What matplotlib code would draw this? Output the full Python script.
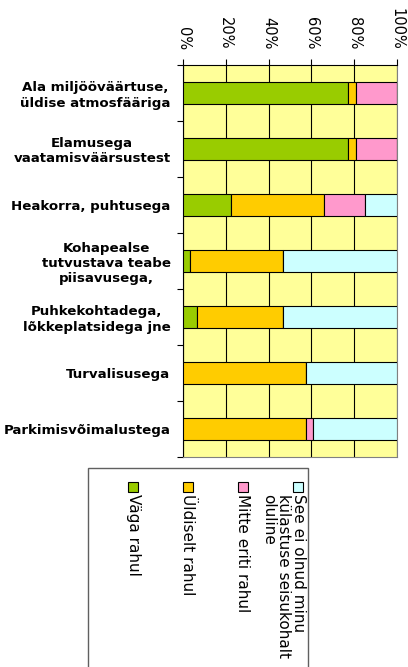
import numpy as np
import matplotlib
matplotlib.use("Agg")
import matplotlib.pyplot as plt
from matplotlib.patches import Rectangle

categories = [
    "Ala miljööväärtuse,\nüldise atmosfääriga",
    "Elamusega\nvaatamisväärsustest",
    "Heakorra, puhtusega",
    "Kohapealse\ntutvustava teabe\npiisavusega,",
    "Puhkekohtadega,\nlõkkeplatsidega jne",
    "Turvalisusega",
    "Parkimisvõimalustega",
]
vaga_rahul = [77.3, 77.3, 22.3, 3.3, 6.4, 0.0, 0.0]
uldiselt_rahul = [3.5, 3.5, 43.6, 43.3, 40.2, 57.3, 57.3]
mitte_eriti = [19.2, 19.2, 19.1, 0.0, 0.0, 0.0, 3.3]
ei_olnud = [0.0, 0.0, 15.0, 53.4, 53.4, 42.7, 39.4]

series = [vaga_rahul, uldiselt_rahul, mitte_eriti, ei_olnud]
series_labels = ["Väga rahul", "Üldiselt rahul", "Mitte eriti rahul",
                 "See ei olnud minu\nkülastuse seisukohalt\noluline"]
colors = ["#99cc00", "#ffcc00", "#ff99cc", "#ccffff"]
x_ticks = [0, 20, 40, 60, 80, 100]
x_ticklabels = ["0%", "20%", "40%", "60%", "80%", "100%"]

W, H = 408, 667
fig = plt.figure(figsize=(W / 100, H / 100), dpi=100)
ax = fig.add_axes([183 / W, 1 - 457 / H, 214 / W, 392 / H])
ax.set_facecolor("#ffff99")

y = np.arange(len(categories))
left = np.zeros(len(categories))
for vals, col in zip(series, colors):
    vals = np.array(vals)
    ax.barh(y, vals, left=left, height=0.39, color=col,
            edgecolor="black", linewidth=0.8, zorder=3)
    left += vals

ax.set_xlim(0, 100)
ax.set_ylim(len(categories) - 0.5, -0.5)
ax.xaxis.tick_top()
ax.set_xticks(x_ticks)
ax.set_xticklabels(x_ticklabels, rotation=-90, fontsize=10.5)
ax.tick_params(axis="x", length=4, width=0.8, pad=7, top=True, bottom=False)
ax.grid(axis="x", color="black", linewidth=0.8, zorder=1)

ax.set_yticks(y)
ax.set_yticklabels(categories, fontsize=9.6, fontweight="bold", multialignment="center")
ax.set_yticks(np.arange(-0.5, len(categories), 1.0), minor=True)
ax.tick_params(axis="y", which="major", length=0, pad=9)
ax.tick_params(axis="y", which="minor", length=4, width=0.8)

for s in ["top", "left"]:
    ax.spines[s].set_color("black")
for s in ["bottom", "right"]:
    ax.spines[s].set_color("#808080")

# legend, drawn rotated
lax = fig.add_axes([0, 0, 1, 1])
lax.set_xlim(0, W)
lax.set_ylim(H, 0)
lax.axis("off")
lax.add_patch(Rectangle((88, 468), 220, 210, facecolor="white",
                        edgecolor="#606060", linewidth=1))
for i, (lab, col) in enumerate(zip(series_labels, colors)):
    cx = 133 + 55 * i
    lax.add_patch(Rectangle((cx - 5, 482), 10, 10, facecolor=col,
                            edgecolor="black", linewidth=0.8))
    if "\n" in lab:
        lax.text(cx + 8, 494, lab, rotation=-90, ha="right", va="top",
                 fontsize=11, multialignment="left", linespacing=1.0)
    else:
        lax.text(cx, 494, lab, rotation=-90, ha="center", va="top", fontsize=11)

fig.savefig("out.png", dpi=100)
